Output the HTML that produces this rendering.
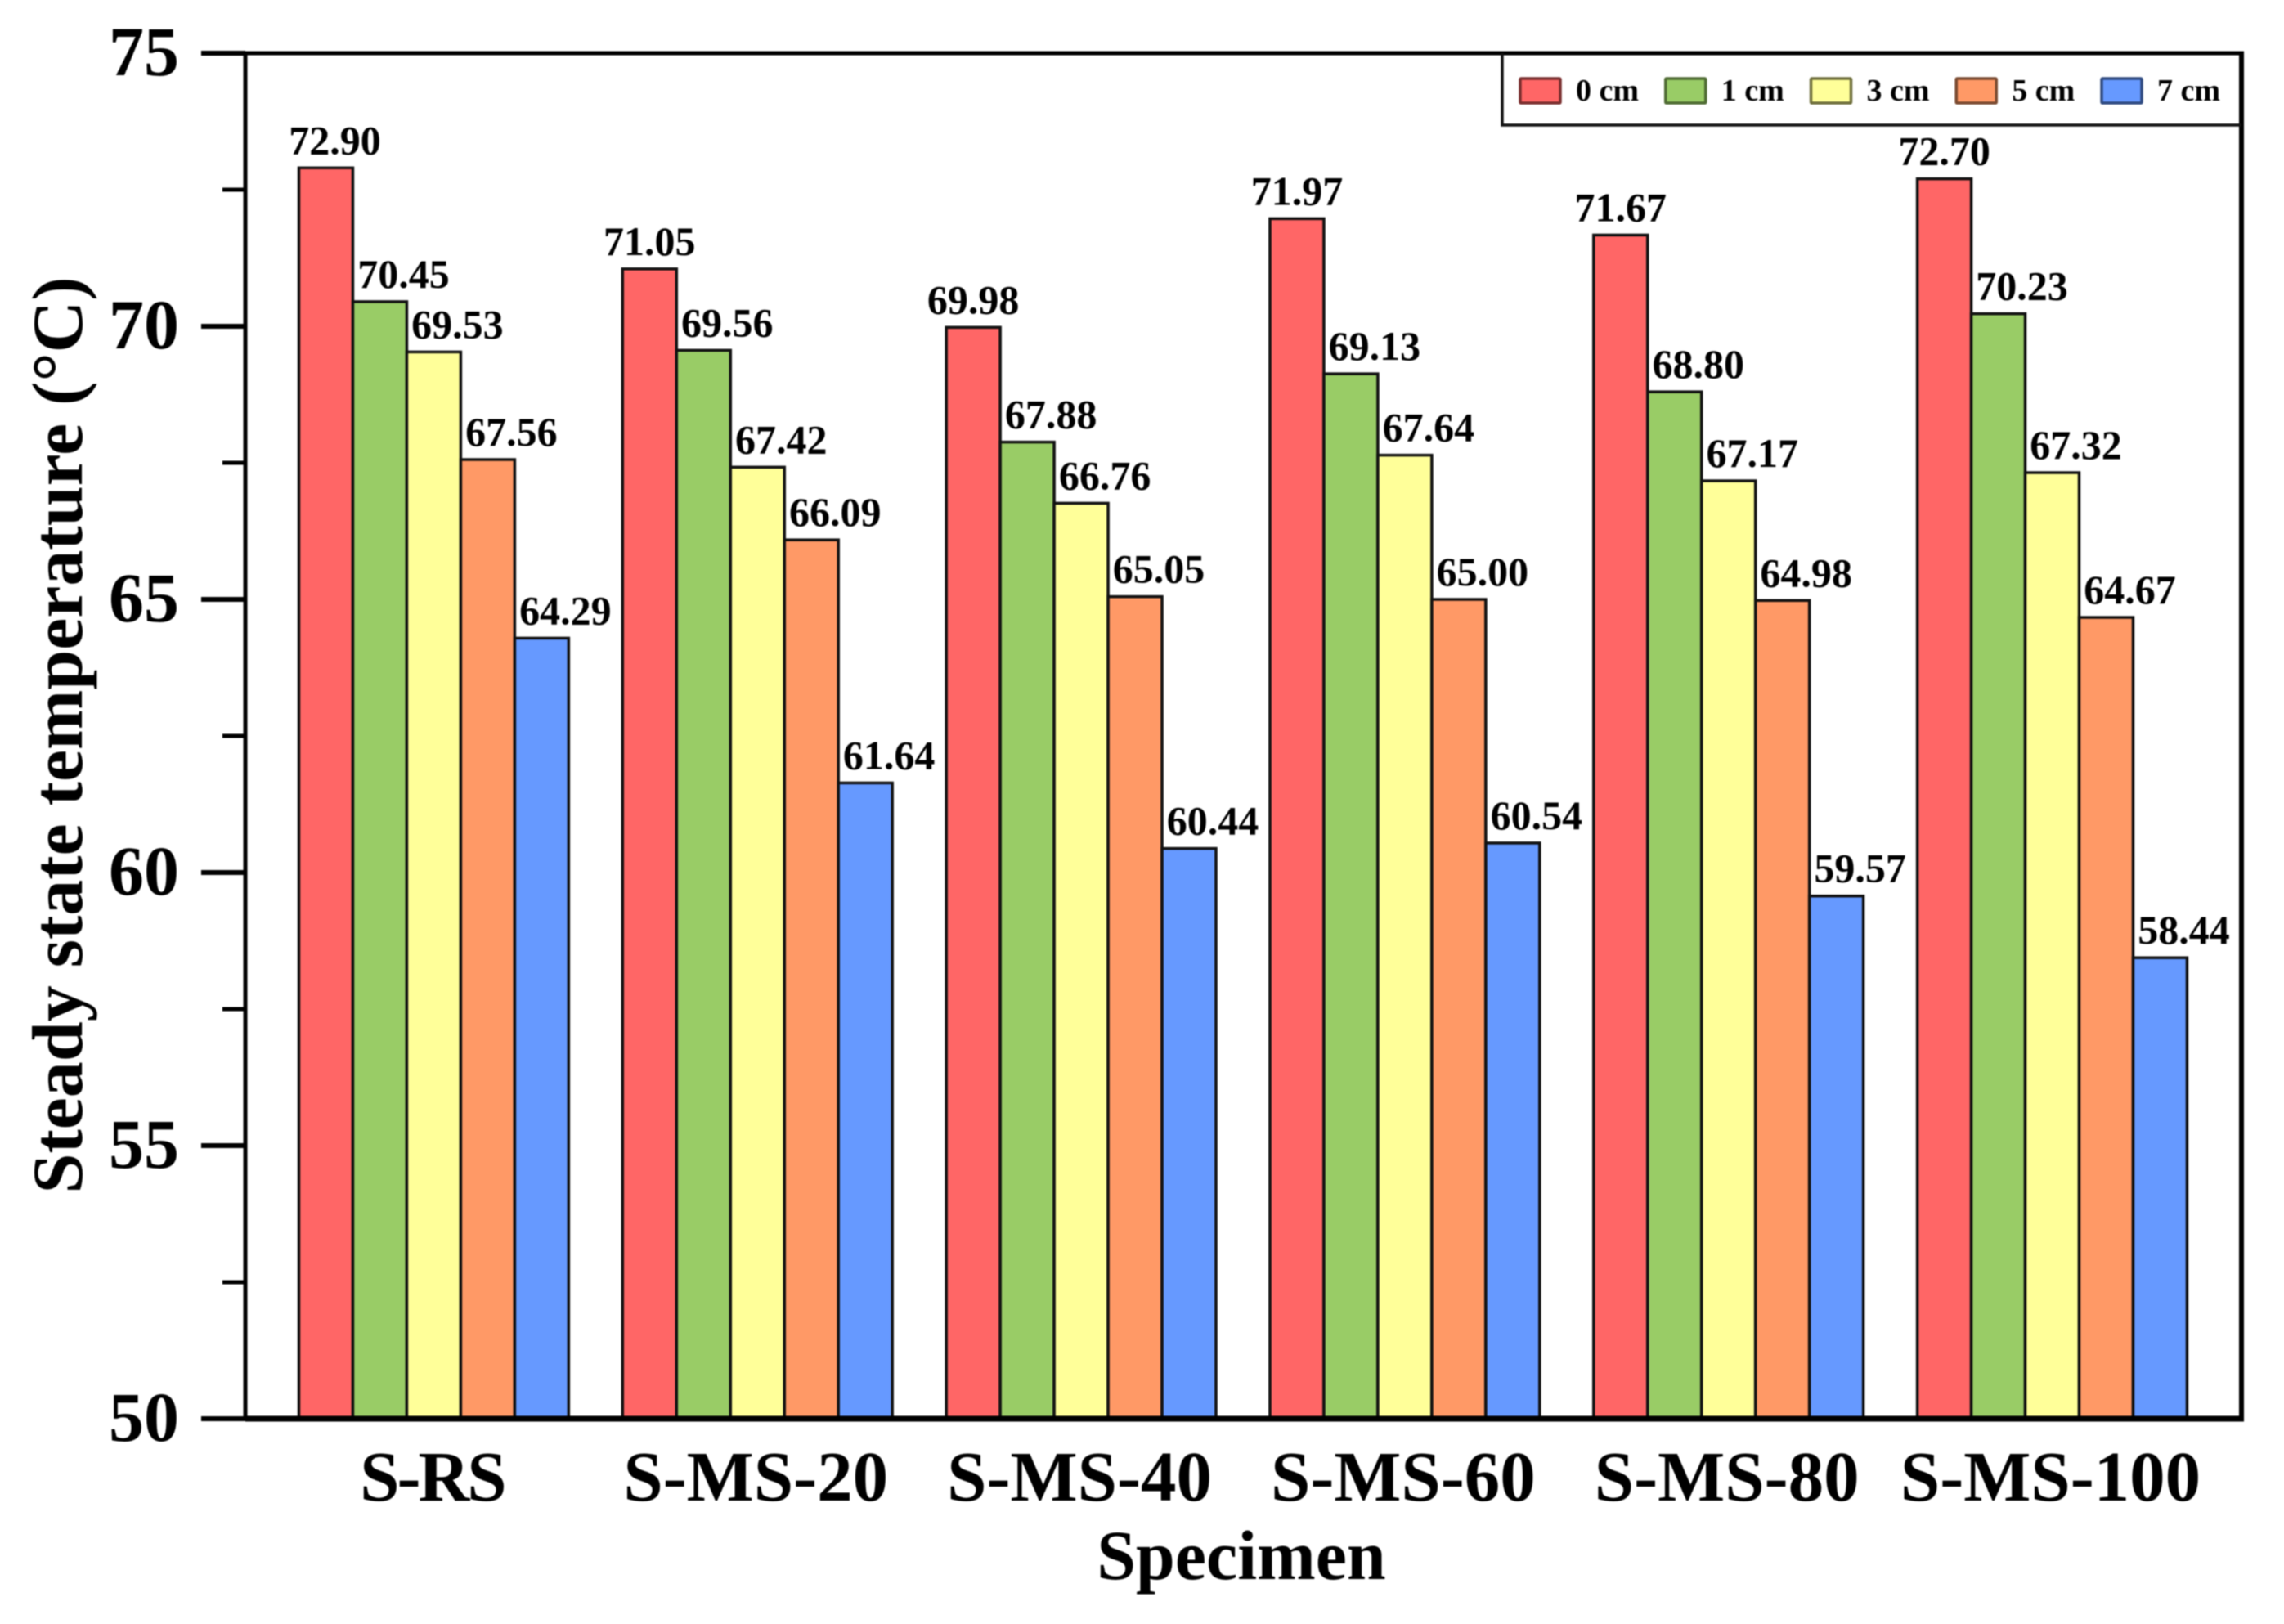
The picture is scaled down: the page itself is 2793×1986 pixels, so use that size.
<!DOCTYPE html>
<html lang="en">
<head>
<meta charset="utf-8">
<title>Steady state temperature by specimen</title>
<style>
  html, body { margin: 0; padding: 0; background: #fff; width: 2793px; height: 1986px; overflow: hidden; }
  svg { display: block; filter: blur(0.9px); font-family: "Liberation Serif", serif; font-weight: bold; fill: #000; }
</style>
</head>
<body>
<svg id="chart" xmlns="http://www.w3.org/2000/svg" width="2793" height="1986" viewBox="0 0 2793 1986">
  <rect x="0" y="0" width="2793" height="1986" fill="#fff"/>
  <g id="bars"></g>
  <g id="value-labels"></g>
  <g id="axes"></g>
  <text transform="translate(100 899) rotate(-90)" text-anchor="middle" font-size="88">Steady state temperature (°C)</text>
  <text x="1518" y="1931" text-anchor="middle" font-size="86">Specimen</text>
  <g id="legend"></g>
</svg>
<script>
const categories = ["S-RS", "S-MS-20", "S-MS-40", "S-MS-60", "S-MS-80", "S-MS-100"];
const seriesNames = ["0 cm", "1 cm", "3 cm", "5 cm", "7 cm"];
const values0cm = [72.90, 71.05, 69.98, 71.97, 71.67, 72.70];
const values1cm = [70.45, 69.56, 67.88, 69.13, 68.80, 70.23];
const values3cm = [69.53, 67.42, 66.76, 67.64, 67.17, 67.32];
const values5cm = [67.56, 66.09, 65.05, 65.00, 64.98, 64.67];
const values7cm = [64.29, 61.64, 60.44, 60.54, 59.57, 58.44];
const majorTicks = [50, 55, 60, 65, 70, 75];
const minorTicks = [52.5, 57.5, 62.5, 67.5, 72.5];

const allSeries = [values0cm, values1cm, values3cm, values5cm, values7cm];
const fills = ["#FF6666", "#99CC66", "#FFFF99", "#FF9966", "#6699FF"];
const strokes = ["#7a2e2e", "#4f6b33", "#6f6f3c", "#7a4a30", "#2f4a80"];
const NS = "http://www.w3.org/2000/svg";

const plot = { left: 300, right: 2741, top: 65, bottom: 1735 };
const yMin = 50, yMax = 75;
const barStart = 365.5;
const barW = 65.97;

function yScale(v) {
  return plot.bottom - (v - yMin) / (yMax - yMin) * (plot.bottom - plot.top);
}
function xBar(g, s) {
  return barStart + barW * (g * (seriesNames.length + 1) + s);
}
function xCenter(g) {
  return xBar(g, seriesNames.length / 2);
}
function make(tag, attrs, parent, text) {
  const el = document.createElementNS(NS, tag);
  for (const k in attrs) el.setAttribute(k, attrs[k]);
  if (text !== undefined) el.textContent = text;
  parent.appendChild(el);
  return el;
}

const barsG = document.getElementById("bars");
const labelsG = document.getElementById("value-labels");
const axesG = document.getElementById("axes");
const legendG = document.getElementById("legend");

allSeries.forEach(function (vals, s) {
  vals.forEach(function (v, g) {
    const y = yScale(v);
    const bar = make("rect", { x: xBar(g, s), y: y, width: barW, height: plot.bottom - y, fill: fills[s], stroke: "#111", "stroke-width": 3.5 }, barsG);
    
    

    let dx = s === 0 ? (g === 0 ? 11 : 0) : 29;
    const label = make("text", { x: xBar(g, s) + barW / 2 + dx, y: y - 17, "text-anchor": "middle", "font-size": 50 }, labelsG, v.toFixed(2));
    
    
  });
});

/* axis frame */
const spineLeft = make("line", { x1: plot.left, x2: plot.left, y1: plot.top, y2: plot.bottom, stroke: "#000", "stroke-width": 5 }, axesG);


const spineRight = make("line", { x1: plot.right, x2: plot.right, y1: plot.top, y2: plot.bottom, stroke: "#000", "stroke-width": 6 }, axesG);


const spineTop = make("line", { x1: plot.left, x2: plot.right + 3, y1: plot.top, y2: plot.top, stroke: "#000", "stroke-width": 5 }, axesG);


const spineBottom = make("line", { x1: plot.left, x2: plot.right + 3, y1: plot.bottom, y2: plot.bottom, stroke: "#000", "stroke-width": 7 }, axesG);



majorTicks.forEach(function (t) {
  const y = yScale(t);
  const tick = make("line", { x1: 246, x2: plot.left, y1: y, y2: y, stroke: "#000", "stroke-width": 6 }, axesG);
  
  
  const lab = make("text", { x: 219, y: y + 27, "text-anchor": "end", "font-size": 86 }, axesG, String(t));
  
  
});
minorTicks.forEach(function (t) {
  const y = yScale(t);
  const tick = make("line", { x1: 272, x2: plot.left, y1: y, y2: y, stroke: "#000", "stroke-width": 5 }, axesG);
  
  
});
categories.forEach(function (c, g) {
  const lab = make("text", { x: xCenter(g) - 2, y: 1835, "text-anchor": "middle", "font-size": 87, "letter-spacing": c.length < 5 ? -3 : 0 }, axesG, c);
  
  
});

/* legend */
const legendBox = make("path", { d: "M1837 65 V153 H2741", fill: "none", stroke: "#111", "stroke-width": 3.5 }, legendG);


seriesNames.forEach(function (n, s) {
  const sx = 1859 + s * 177.75;
  const swatch = make("rect", { x: sx, y: 96, width: 49, height: 30, rx: 1, fill: fills[s], stroke: strokes[s], "stroke-width": 3.5 }, legendG);
  
  
  const txt = make("text", { x: sx + 68, y: 123, "font-size": 38 }, legendG, n);
  
  
});
</script>
</body>
</html>
